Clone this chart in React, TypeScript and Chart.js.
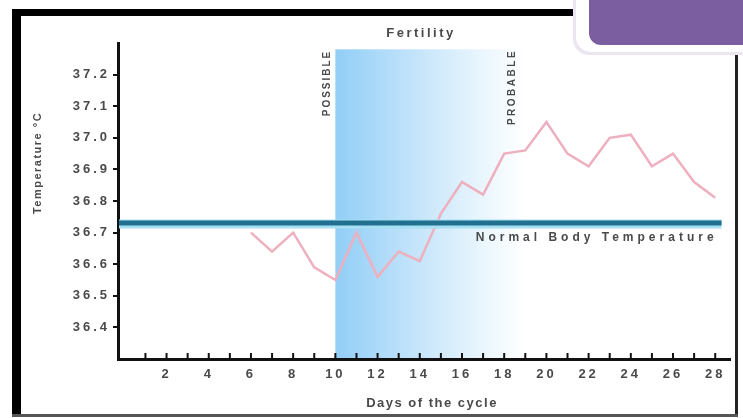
import React, { useEffect, useRef } from 'react';
import { Chart, registerables } from 'chart.js';

Chart.register(...registerables);

// ---- data ----
const DAYS = [6, 7, 8, 9, 10, 11, 12, 13, 14, 15, 16, 17, 18, 19, 20, 21, 22, 23, 24, 25, 26, 27, 28];
const TEMPS = [36.70, 36.64, 36.70, 36.59, 36.55, 36.70, 36.56, 36.64, 36.61, 36.76, 36.86, 36.82, 36.95, 36.96, 37.05, 36.95, 36.91, 37.00, 37.01, 36.91, 36.95, 36.86, 36.81];
const X_TICKS = [1, 2, 3, 4, 5, 6, 7, 8, 9, 10, 11, 12, 13, 14, 15, 16, 17, 18, 19, 20, 21, 22, 23, 24, 25, 26, 27, 28];
const Y_TICKS = [36.4, 36.5, 36.6, 36.7, 36.8, 36.9, 37.0, 37.1, 37.2];
const X_MIN = -0.3;
const X_MAX = 28.7;
const Y_MIN = 36.3;
const Y_MAX = 37.3;
const NORMAL_TEMP = 36.73;
const NORMAL_END_DAY = 28.3;
const FERTILE_START = 10;
const FERTILE_FADE_END = 19;
const FERTILE_TOP = 37.28;
const POSSIBLE_DAY = 9.6;
const PROBABLE_DAY = 18.4;

const FAMILY = "'Liberation Sans', Arial, Helvetica, sans-serif";
const TEXT = '#4a4a4a';

function spacedText(ctx: CanvasRenderingContext2D, text: string, x: number, y: number, font: string, spacing: number, align: CanvasTextAlign, rot = 0) {
  ctx.save();
  ctx.font = font;
  (ctx as any).letterSpacing = spacing + 'px';
  ctx.fillStyle = TEXT;
  ctx.textAlign = align;
  ctx.textBaseline = 'middle';
  ctx.translate(x, y);
  if (rot) ctx.rotate(rot);
  ctx.fillText(text, 0, 0);
  ctx.restore();
}

const decor = {
  id: 'decor',
  beforeDraw(chart: any) {
    const ctx: CanvasRenderingContext2D = chart.ctx;
    const { x, y } = chart.scales;
    const area = chart.chartArea;
    ctx.save();
    ctx.fillStyle = '#fff';
    ctx.fillRect(0, 0, chart.width, chart.height);
    // frame
    ctx.fillStyle = '#000';
    ctx.fillRect(12, 9, 9, 408);
    ctx.fillRect(12, 9, 600, 7);
    ctx.fillStyle = '#222';
    ctx.fillRect(735, 9, 3, 408);
    ctx.fillStyle = '#555';
    ctx.fillRect(12, 414, 726, 3);
    // fertility shading
    const x0 = x.getPixelForValue(FERTILE_START);
    const x1 = x.getPixelForValue(FERTILE_FADE_END);
    const top = y.getPixelForValue(FERTILE_TOP);
    const g = ctx.createLinearGradient(x0, 0, x1, 0);
    g.addColorStop(0, '#92cef6');
    g.addColorStop(0.15, '#a3d6f8');
    g.addColorStop(0.5, '#cde8fb');
    g.addColorStop(0.8, '#ecf7fd');
    g.addColorStop(1, '#ffffff');
    ctx.fillStyle = g;
    ctx.fillRect(x0, top, x1 - x0, area.bottom - top);
    ctx.restore();
    (ctx as any).letterSpacing = '3px';
  },
  afterDatasetsDraw(chart: any) {
    const ctx: CanvasRenderingContext2D = chart.ctx;
    const { x, y } = chart.scales;
    const area = chart.chartArea;
    const yy = y.getPixelForValue(NORMAL_TEMP);
    const xe = x.getPixelForValue(NORMAL_END_DAY);
    ctx.save();
    (ctx as any).letterSpacing = '0px';
    ctx.strokeStyle = '#a6e0f2';
    ctx.lineWidth = 9;
    ctx.beginPath();
    ctx.moveTo(area.left + 1, yy + 1);
    ctx.lineTo(xe, yy + 1);
    ctx.stroke();
    ctx.strokeStyle = '#22708f';
    ctx.lineWidth = 5;
    ctx.beginPath();
    ctx.moveTo(area.left + 1, yy);
    ctx.lineTo(xe, yy);
    ctx.stroke();
    ctx.restore();
  },
  afterDraw(chart: any) {
    const ctx: CanvasRenderingContext2D = chart.ctx;
    const { x, y } = chart.scales;
    const area = chart.chartArea;
    (ctx as any).letterSpacing = '0px';
    // x tick marks
    ctx.save();
    ctx.strokeStyle = '#111';
    ctx.lineWidth = 2;
    for (const d of X_TICKS) {
      const px = x.getPixelForValue(d);
      ctx.beginPath();
      ctx.moveTo(px, area.bottom - 6);
      ctx.lineTo(px, area.bottom + 2);
      ctx.stroke();
    }
    ctx.restore();
    const yy = y.getPixelForValue(NORMAL_TEMP);
    const xe = x.getPixelForValue(NORMAL_END_DAY);
    spacedText(ctx, 'Normal Body Temperature', xe - 4, yy + 15, `bold 12px ${FAMILY}`, 4, 'right');
    const fx = (x.getPixelForValue(FERTILE_START) + x.getPixelForValue(PROBABLE_DAY)) / 2;
    spacedText(ctx, 'Fertility', fx - 3, 33, `bold 13px ${FAMILY}`, 2.5, 'center');
    spacedText(ctx, 'POSSIBLE', x.getPixelForValue(POSSIBLE_DAY), 83, `bold 10px ${FAMILY}`, 2, 'center', -Math.PI / 2);
    spacedText(ctx, 'PROBABLE', x.getPixelForValue(PROBABLE_DAY), 87, `bold 10px ${FAMILY}`, 2.5, 'center', -Math.PI / 2);
    spacedText(ctx, 'Temperature °C', 38, 163, `bold 11px ${FAMILY}`, 1.5, 'center', -Math.PI / 2);
    spacedText(ctx, 'Days of the cycle', (area.left + area.right) / 2 + 8, 403, `bold 13px ${FAMILY}`, 1.5, 'center');
    // purple box
    ctx.save();
    ctx.fillStyle = '#ebe6ef';
    ctx.beginPath();
    (ctx as any).roundRect(573, -30, 220, 85, 16);
    ctx.fill();
    ctx.fillStyle = '#ffffff';
    ctx.beginPath();
    (ctx as any).roundRect(576, -30, 220, 82, 15);
    ctx.fill();
    ctx.fillStyle = '#7a5ea0';
    ctx.beginPath();
    (ctx as any).roundRect(589, -30, 220, 75, 12);
    ctx.fill();
    ctx.restore();
  },
};

export default function App() {
  const ref = useRef<HTMLCanvasElement | null>(null);
  useEffect(() => {
    if (!ref.current) return;
    const tickFont = { family: FAMILY, size: 13, weight: 'bold' as const };
    const chart = new Chart(ref.current, {
      type: 'line',
      data: {
        datasets: [
          {
            label: 'Temperature',
            data: DAYS.map((d, i) => ({ x: d, y: TEMPS[i] })),
            borderColor: '#eeb0be',
            borderWidth: 2.5,
            pointRadius: 0,
            tension: 0,
            fill: false,
          },
        ],
      },
      options: {
        animation: false,
        responsive: false,
        maintainAspectRatio: false,
        layout: { padding: { left: 0, right: 13, top: 43, bottom: 0 } },
        plugins: { legend: { display: false }, tooltip: { enabled: false }, title: { display: false } },
        scales: {
          x: {
            type: 'linear',
            min: X_MIN,
            max: X_MAX,
            afterBuildTicks: (s: any) => { s.ticks = X_TICKS.map((v) => ({ value: v })); },
            afterFit: (s: any) => { s.height = 59; },
            ticks: {
              autoSkip: false,
              maxRotation: 0,
              minRotation: 0,
              padding: 8,
              color: TEXT,
              font: tickFont,
              callback: (v: any) => (Number(v) % 2 === 0 ? String(v) : ''),
            },
            grid: { display: false, drawTicks: false },
            border: { display: true, color: '#111', width: 3 },
          },
          y: {
            type: 'linear',
            min: Y_MIN,
            max: Y_MAX,
            afterBuildTicks: (s: any) => { s.ticks = Y_TICKS.map((v) => ({ value: v })); },
            afterFit: (s: any) => { s.width = 118; },
            ticks: {
              padding: 3,
              color: TEXT,
              font: tickFont,
              callback: (v: any) => Number(v).toFixed(1),
            },
            grid: { display: true, drawOnChartArea: false, drawTicks: true, tickLength: 5, color: '#111', lineWidth: 2 },
            border: { display: true, color: '#111', width: 3 },
          },
        },
      },
      plugins: [decor],
    });
    return () => chart.destroy();
  }, []);
  return (
    <div style={{ position: 'fixed', left: 0, top: 0, width: 743, height: 418, background: '#fff' }}>
      <canvas ref={ref} width={743} height={418} style={{ display: 'block', width: 743, height: 418 }} />
    </div>
  );
}
